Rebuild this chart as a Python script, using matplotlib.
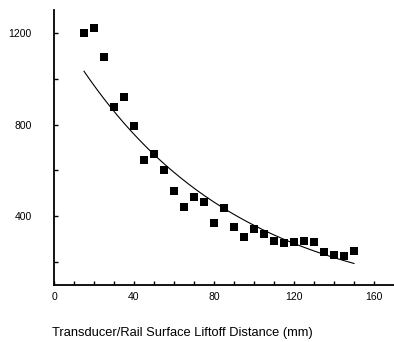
import numpy as np
import matplotlib
matplotlib.use('Agg')
import matplotlib.pyplot as plt

liftoff = [15, 20, 25, 30, 35, 40, 45, 50, 55, 60, 65, 70, 75, 80,
           85, 90, 95, 100, 105, 110, 115, 120, 125, 130, 135, 140, 145, 150]
signal = [1198, 1221, 1097, 877, 920, 793, 647, 670, 604, 510, 439, 483, 462, 371,
          434, 355, 311, 343, 321, 292, 285, 288, 292, 288, 244, 230, 227, 249]

x_ticks = [0, 10, 20, 30, 40, 50, 60, 70, 80, 90, 100, 110, 120, 130, 140, 150, 160]
x_labels = ['0', '', '', '', '40', '', '', '', '80', '', '', '', '120', '', '', '', '160']
y_ticks = [200, 400, 600, 800, 1000, 1200]
y_labels = ['', '400', '', '800', '', '1200']

plt.rcParams['font.family'] = ['Liberation Sans', 'DejaVu Sans']

fig = plt.figure(figsize=(3.94, 3.42), dpi=100)
ax = fig.add_axes([54/394, 57/342, 1 - 54/394, (332 - 57)/342])

# exponential fit through the points (log-linear least squares)
b, ln_a = np.polyfit(liftoff, np.log(signal), 1)
xf = np.linspace(min(liftoff), max(liftoff), 200)
ax.plot(xf, np.exp(ln_a + b * xf), color='black', lw=0.8)

ax.plot(liftoff, signal, linestyle='none', marker='s', ms=5.3, color='black', mew=0)

ax.set_xlim(0, 170)
ax.set_ylim(100, 1300)
ax.set_xticks(x_ticks)
ax.set_xticklabels(x_labels)
ax.set_yticks(y_ticks)
ax.set_yticklabels(y_labels)
ax.tick_params(axis='both', direction='in', length=3, width=1, labelsize=7.5)
ax.tick_params(axis='y', pad=16)
ax.tick_params(axis='x', pad=5)
for s in ['top', 'right']:
    ax.spines[s].set_visible(False)
for s in ['left', 'bottom']:
    ax.spines[s].set_linewidth(1.3)

fig.text(52/394, 1 - 333/342, 'Transducer/Rail Surface Liftoff Distance (mm)',
         ha='left', va='center', fontsize=9.3)

fig.savefig('out.png', dpi=100)
